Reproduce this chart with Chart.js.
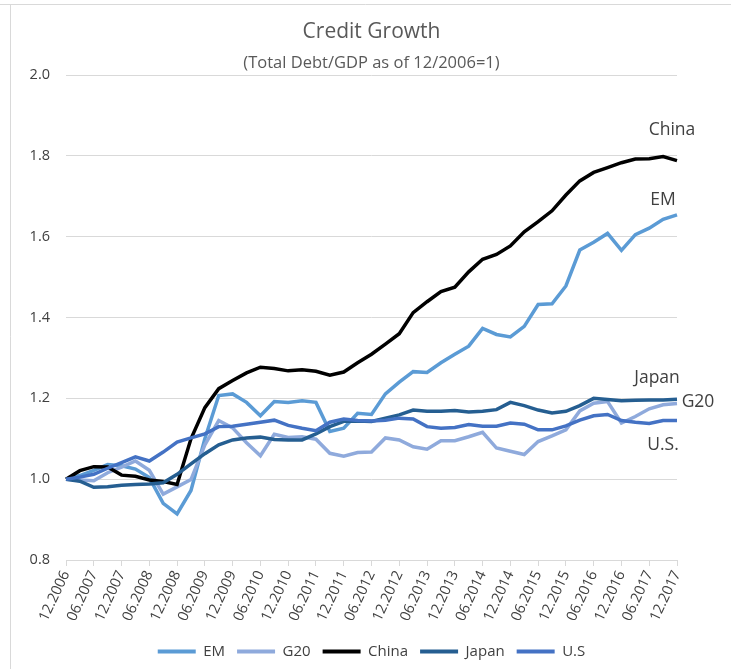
<!DOCTYPE html>
<html>
<head>
<meta charset="utf-8">
<title>Credit Growth</title>
<script src="https://cdn.jsdelivr.net/npm/chart.js@4.4.1/dist/chart.umd.min.js"></script>
<style>
  body { margin: 0; background: #fff; }
  #wrap { width: 731px; height: 669px; }
</style>
</head>
<body>
<div id="wrap"><canvas id="creditChart" width="731" height="669"></canvas></div>
<script>
// quarterly, 12.2006 .. 12.2017
const quarters = [
  "12.2006", "03.2007", "06.2007", "09.2007", "12.2007", "03.2008", "06.2008", "09.2008",
  "12.2008", "03.2009", "06.2009", "09.2009", "12.2009", "03.2010", "06.2010", "09.2010",
  "12.2010", "03.2011", "06.2011", "09.2011", "12.2011", "03.2012", "06.2012", "09.2012",
  "12.2012", "03.2013", "06.2013", "09.2013", "12.2013", "03.2014", "06.2014", "09.2014",
  "12.2014", "03.2015", "06.2015", "09.2015", "12.2015", "03.2016", "06.2016", "09.2016",
  "12.2016", "03.2017", "06.2017", "09.2017", "12.2017"
];

const emValues = [
  1.000, 1.009, 1.022, 1.036, 1.033, 1.025, 1.004, 0.940, 0.914, 0.972,
  1.100, 1.207, 1.211, 1.190, 1.157, 1.192, 1.190, 1.194, 1.190, 1.118,
  1.126, 1.163, 1.160, 1.211, 1.240, 1.266, 1.264, 1.288, 1.309, 1.329,
  1.373, 1.358, 1.352, 1.378, 1.432, 1.434, 1.478, 1.567, 1.586, 1.608,
  1.566, 1.605, 1.621, 1.643, 1.654
];

const g20Values = [
  1.000, 0.998, 0.996, 1.016, 1.030, 1.045, 1.022, 0.963, 0.981, 0.999,
  1.085, 1.145, 1.127, 1.090, 1.058, 1.111, 1.103, 1.105, 1.099, 1.064,
  1.057, 1.066, 1.067, 1.102, 1.097, 1.080, 1.074, 1.095, 1.095, 1.105,
  1.116, 1.077, 1.069, 1.061, 1.093, 1.107, 1.122, 1.169, 1.188, 1.192,
  1.139, 1.155, 1.174, 1.184, 1.187
];

const chinaValues = [
  1.000, 1.021, 1.031, 1.030, 1.010, 1.007, 0.998, 0.994, 0.987, 1.100,
  1.177, 1.224, 1.244, 1.263, 1.277, 1.274, 1.268, 1.271, 1.267, 1.257,
  1.265, 1.288, 1.309, 1.334, 1.360, 1.412, 1.439, 1.464, 1.475, 1.513,
  1.544, 1.556, 1.577, 1.612, 1.637, 1.664, 1.703, 1.738, 1.759, 1.771,
  1.783, 1.792, 1.793, 1.798, 1.788
];

const japanValues = [
  1.000, 0.995, 0.980, 0.981, 0.985, 0.987, 0.988, 0.991, 1.012, 1.038,
  1.063, 1.085, 1.097, 1.102, 1.104, 1.098, 1.097, 1.097, 1.112, 1.130,
  1.143, 1.144, 1.143, 1.151, 1.159, 1.171, 1.168, 1.168, 1.170, 1.166,
  1.168, 1.172, 1.190, 1.182, 1.171, 1.164, 1.168, 1.182, 1.200, 1.197,
  1.194, 1.195, 1.196, 1.196, 1.198
];

const usValues = [
  1.000, 1.005, 1.012, 1.027, 1.041, 1.055, 1.045, 1.067, 1.092, 1.102,
  1.112, 1.130, 1.131, 1.136, 1.141, 1.146, 1.133, 1.126, 1.120, 1.141,
  1.149, 1.145, 1.144, 1.146, 1.151, 1.149, 1.130, 1.126, 1.128, 1.135,
  1.131, 1.131, 1.139, 1.136, 1.122, 1.122, 1.132, 1.146, 1.157, 1.160,
  1.145, 1.141, 1.138, 1.145, 1.145
];

const seriesNames = ["EM", "G20", "China", "Japan", "U.S"];
const endLabels = ["EM", "G20", "China", "Japan", "U.S."];
const seriesColors = ["#5b9bd5", "#8faadc", "#000000", "#255e91", "#4472c4"];
const yTicks = [0.8, 1.0, 1.2, 1.4, 1.6, 1.8, 2.0];

const FONT = "'Open Sans', 'Noto Sans', sans-serif";
const GREY = "#595959";
const DARK = "#404040";
const GRID = "#d9d9d9";

// offset of each end label from the last point of its line
const labelOffsets = [
  { dx: -14, dy: -15 },
  { dx: 21, dy: -2 },
  { dx: -5, dy: -31 },
  { dx: -20, dy: -21 },
  { dx: -14, dy: 24 }
];

// names written next to the right-hand end of each line
const endLabelPlugin = {
  id: "endLabels",
  afterDatasetsDraw(chart) {
    const ctx = chart.ctx;
    ctx.save();
    ctx.font = "17.5px " + FONT;
    ctx.fillStyle = DARK;
    ctx.textAlign = "center";
    ctx.textBaseline = "middle";
    chart.data.datasets.forEach((ds, i) => {
      const pts = chart.getDatasetMeta(i).data;
      const last = pts[pts.length - 1];
      const off = labelOffsets[i];
      ctx.fillText(endLabels[i], last.x + off.dx, last.y + off.dy);
    });
    ctx.restore();
  }
};

// white background and the thin frame lines
const framePlugin = {
  id: "frame",
  beforeDraw(chart) {
    const ctx = chart.ctx;
    ctx.save();
    ctx.fillStyle = "#fff";
    ctx.fillRect(0, 0, chart.width, chart.height);
    ctx.strokeStyle = GRID;
    ctx.lineWidth = 1;
    ctx.beginPath();
    ctx.moveTo(0, 4.5);
    ctx.lineTo(chart.width, 4.5);
    ctx.moveTo(10.5, 4.5);
    ctx.lineTo(10.5, chart.height);
    ctx.stroke();
    ctx.restore();
  }
};

const datasets = [emValues, g20Values, chinaValues, japanValues, usValues].map((vals, i) => ({
  label: seriesNames[i],
  data: vals,
  borderColor: seriesColors[i],
  backgroundColor: seriesColors[i],
  borderWidth: 3.5,
  pointRadius: 0,
  tension: 0,
  order: -i // later series on top
}));

const ctx = document.getElementById("creditChart").getContext("2d");
new Chart(ctx, {
  type: "line",
  data: { labels: quarters, datasets },
  plugins: [framePlugin, endLabelPlugin],
  options: {
    responsive: false,
    animation: false,
    layout: { padding: { top: 10, left: 10, right: 54, bottom: 0 } },
    scales: {
      x: {
        offset: false,
        afterFit: scale => { scale.height = 72; },
        grid: {
          drawOnChartArea: false,
          drawTicks: true,
          tickLength: 6,
          color: c => (c.index % 2 === 0 ? GRID : "rgba(0,0,0,0)")
        },
        border: { color: GRID },
        ticks: {
          autoSkip: false,
          minRotation: 65,
          maxRotation: 65,
          padding: 2,
          color: DARK,
          font: { family: FONT, size: 14.5 },
          callback: function (value, index) {
            return index % 2 === 0 ? quarters[index] : "";
          }
        }
      },
      y: {
        min: 0.8,
        max: 2.0,
        afterBuildTicks: scale => {
          scale.ticks = yTicks.map(v => ({ value: v }));
        },
        afterFit: scale => { scale.width = 56; },
        grid: { color: GRID, drawTicks: false },
        border: { display: false },
        ticks: {
          padding: 16,
          color: DARK,
          font: { family: FONT, size: 14.5 },
          callback: v => Number(v).toFixed(1)
        }
      }
    },
    plugins: {
      title: {
        display: true,
        text: "Credit Growth",
        fullSize: false,
        color: GREY,
        font: { family: FONT, size: 21, weight: "normal" },
        padding: { top: 9, bottom: 9 }
      },
      subtitle: {
        display: true,
        text: "(Total Debt/GDP as of 12/2006=1)",
        fullSize: false,
        color: GREY,
        font: { family: FONT, size: 16.5 },
        padding: { top: 0, bottom: 2 }
      },
      legend: {
        position: "bottom",
        fullSize: false,
        labels: {
          boxWidth: 38,
          boxHeight: 4,
          padding: 12,
          color: DARK,
          font: { family: FONT, size: 15 },
          sort: (a, b) => a.datasetIndex - b.datasetIndex,
          generateLabels: chart => {
            const items = Chart.defaults.plugins.legend.labels.generateLabels(chart);
            items.forEach(it => { it.lineWidth = 0; });
            return items;
          }
        }
      },
      tooltip: { enabled: false }
    }
  }
});
</script>
</body>
</html>
